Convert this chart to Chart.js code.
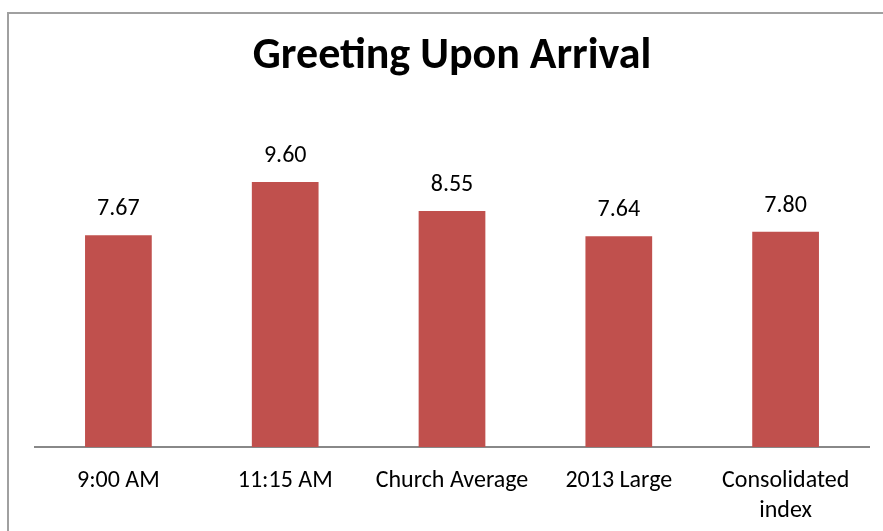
<!DOCTYPE html>
<html>
<head>
<meta charset="utf-8">
<script src="https://cdn.jsdelivr.net/npm/chart.js@4/dist/chart.umd.min.js"></script>
<style>
  body { margin: 0; background: #fff; overflow: hidden; }
  #wrap { position: relative; width: 883px; height: 531px; }
  #frame {
    position: absolute; left: 7px; top: 12px; width: 900px; height: 600px;
    border: 2px solid #a0a0a0; box-sizing: border-box;
  }
  canvas { position: absolute; left: 0; top: 0; }
</style>
</head>
<body>
<div id="wrap">
  <div id="frame"></div>
  <canvas id="chart" width="883" height="531"></canvas>
</div>
<script>
const categories = ["9:00 AM", "11:15 AM", "Church Average", "2013 Large", ["Consolidated", "index"]];
const scores = [7.67, 9.60, 8.55, 7.64, 7.80];
const fontName = "Carlito, Calibri, Lato, sans-serif";

// value labels above each bar
const barLabels = {
  id: "barLabels",
  afterDatasetsDraw(chart) {
    const ctx = chart.ctx;
    const meta = chart.getDatasetMeta(0);
    ctx.save();
    ctx.font = "24px " + fontName;
    ctx.fillStyle = "#000";
    ctx.textAlign = "center";
    ctx.textBaseline = "middle";
    meta.data.forEach((bar, i) => {
      ctx.fillText(scores[i].toFixed(2), bar.x, bar.y - 26);
    });
    ctx.restore();
  },
};

new Chart(document.getElementById("chart").getContext("2d"), {
  type: "bar",
  data: {
    labels: categories,
    datasets: [
      {
        data: scores,
        backgroundColor: "#C0504D",
        borderWidth: 0,
        barPercentage: 0.4,
        categoryPercentage: 1,
      },
    ],
  },
  options: {
    responsive: false,
    animation: false,
    layout: { padding: { left: 35, right: 14, top: 0, bottom: 0 } },
    plugins: {
      legend: { display: false },
      tooltip: { enabled: false },
      title: {
        display: true,
        text: "Greeting Upon Arrival",
        color: "#000",
        font: { family: fontName, size: 44, weight: "bold", lineHeight: 1.2 },
        padding: { top: 31, bottom: 32 },
      },
    },
    scales: {
      x: {
        grid: { display: false, drawTicks: false },
        border: { display: true, color: "#888", width: 2 },
        ticks: {
          color: "#000",
          padding: 19,
          maxRotation: 0,
          autoSkip: false,
          font: { family: fontName, size: 24, lineHeight: 1.25 },
        },
        afterFit(scale) {
          scale.height = 84;
        },
      },
      y: {
        display: false,
        min: 0,
        max: 12,
      },
    },
  },
  plugins: [barLabels],
});
</script>
</body>
</html>
